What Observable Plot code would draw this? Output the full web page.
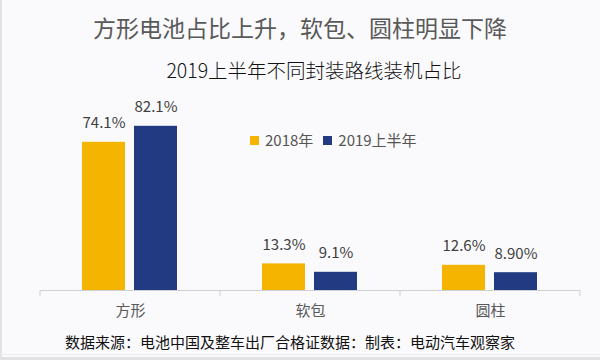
<!DOCTYPE html>
<html>
<head>
<meta charset="utf-8">
<script src="https://cdn.jsdelivr.net/npm/d3@7"></script>
<script src="https://cdn.jsdelivr.net/npm/@observablehq/plot@0.6"></script>
<style>
  html, body { margin: 0; padding: 0; }
  body { width: 600px; height: 360px; overflow: hidden; background: #fafafc; font-family: "Noto Sans CJK SC", "Noto Sans", sans-serif; }
  #wrap { position: relative; width: 600px; height: 360px; }
  #title { position: absolute; left: 0; top: 0; width: 600px; height: 54px; line-height: 54px; text-align: center; font-size: 23px; color: #595959; }
  #subtitle { position: absolute; left: 28px; top: 51px; width: 572px; height: 38px; line-height: 38px; text-align: center; font-size: 19.5px; font-weight: 300; color: #111; }
  #chart { position: absolute; left: 0; top: 90px; }
  #legend { position: absolute; left: 250px; top: 131px; height: 18px; line-height: 18px; font-size: 15px; color: #555; display: flex; align-items: center; white-space: nowrap; }
  #legend .sw { display: inline-block; width: 9px; height: 9px; margin-right: 6px; }
  #legend .item { display: flex; align-items: center; margin-right: 10px; }
  #footer { position: absolute; left: 0; top: 329px; width: 580px; height: 26px; line-height: 26px; text-align: center; font-size: 15px; color: #111; }
  #edgeL { position: absolute; left: 0; top: 0; width: 2px; height: 360px; background: #e2e2e4; }
  #lineB { position: absolute; left: 0; top: 354px; width: 600px; height: 1px; background: #ececef; }
  #edgeB { position: absolute; left: 0; top: 357px; width: 600px; height: 3px; background: #e2e2e4; }
</style>
</head>
<body>
<div id="wrap">
  <div id="edgeL"></div>
  <div id="title"></div>
  <div id="subtitle"></div>
  <div id="chart"></div>
  <div id="legend"></div>
  <div id="footer"></div>
  <div id="lineB"></div>
  <div id="edgeB"></div>
</div>
<script>
const titleText = "方形电池占比上升，软包、圆柱明显下降";
const subtitleText = "2019上半年不同封装路线装机占比";
const footerText = "数据来源：电池中国及整车出厂合格证数据：制表：电动汽车观察家";

const categories = ["方形", "软包", "圆柱"];
const series = ["2018年", "2019上半年"];
const values2018 = [74.1, 13.3, 12.6];
const values2019 = [82.1, 9.1, 8.9];
const labels2018 = ["74.1%", "13.3%", "12.6%"];
const labels2019 = ["82.1%", "9.1%", "8.90%"];
const seriesColors = ["#F4B400", "#213A82"];

document.getElementById("title").textContent = titleText;
document.getElementById("subtitle").textContent = subtitleText;
document.getElementById("footer").textContent = footerText;

const legend = document.getElementById("legend");
series.forEach((s, i) => {
  const item = document.createElement("span");
  item.className = "item";
  const sw = document.createElement("span");
  sw.className = "sw";
  sw.style.background = seriesColors[i];
  const t = document.createElement("span");
  t.textContent = s;
  item.appendChild(sw);
  item.appendChild(t);
  legend.appendChild(item);
});

const rows = categories.flatMap((c, i) => [
  {category: c, series: series[0], value: values2018[i], label: labels2018[i]},
  {category: c, series: series[1], value: values2019[i], label: labels2019[i]}
]);

const plot = Plot.plot({
  width: 600,
  height: 235,
  marginTop: 30,
  marginBottom: 35,
  marginLeft: 40,
  marginRight: 20,
  style: {background: "transparent", fontFamily: "'Noto Sans CJK SC', 'Noto Sans', sans-serif", fontSize: "15px", color: "#595959", overflow: "visible"},
  fx: {domain: categories, padding: 0, label: null, tickSize: 0, tickPadding: 15},
  x: {domain: series, paddingInner: 0.173, paddingOuter: 0.817, axis: null},
  y: {domain: [0, 85], axis: null},
  color: {domain: series, range: seriesColors},
  marks: [
    Plot.barY(rows, {fx: "category", x: "series", y: "value", fill: "series"}),
    Plot.text(rows, {fx: "category", x: "series", y: "value", text: "label", dy: -19, fill: "#404040", fontSize: 15}),
    Plot.ruleY([0], {stroke: "#cfcfd6"})
  ]
});
document.getElementById("chart").appendChild(plot);

// category boundary ticks, placed with the fx and y scales
const fx = plot.scale("fx");
const y = plot.scale("y");
const y0 = y.apply(0);
const edges = categories.map(c => fx.apply(c)).concat([fx.apply(categories[categories.length - 1]) + fx.bandwidth]);
d3.select(plot).append("g")
  .selectAll("line")
  .data(edges)
  .join("line")
  .attr("x1", d => d).attr("x2", d => d)
  .attr("y1", y0).attr("y2", y0 + 6)
  .attr("stroke", "#cfcfd6");
</script>
</body>
</html>
